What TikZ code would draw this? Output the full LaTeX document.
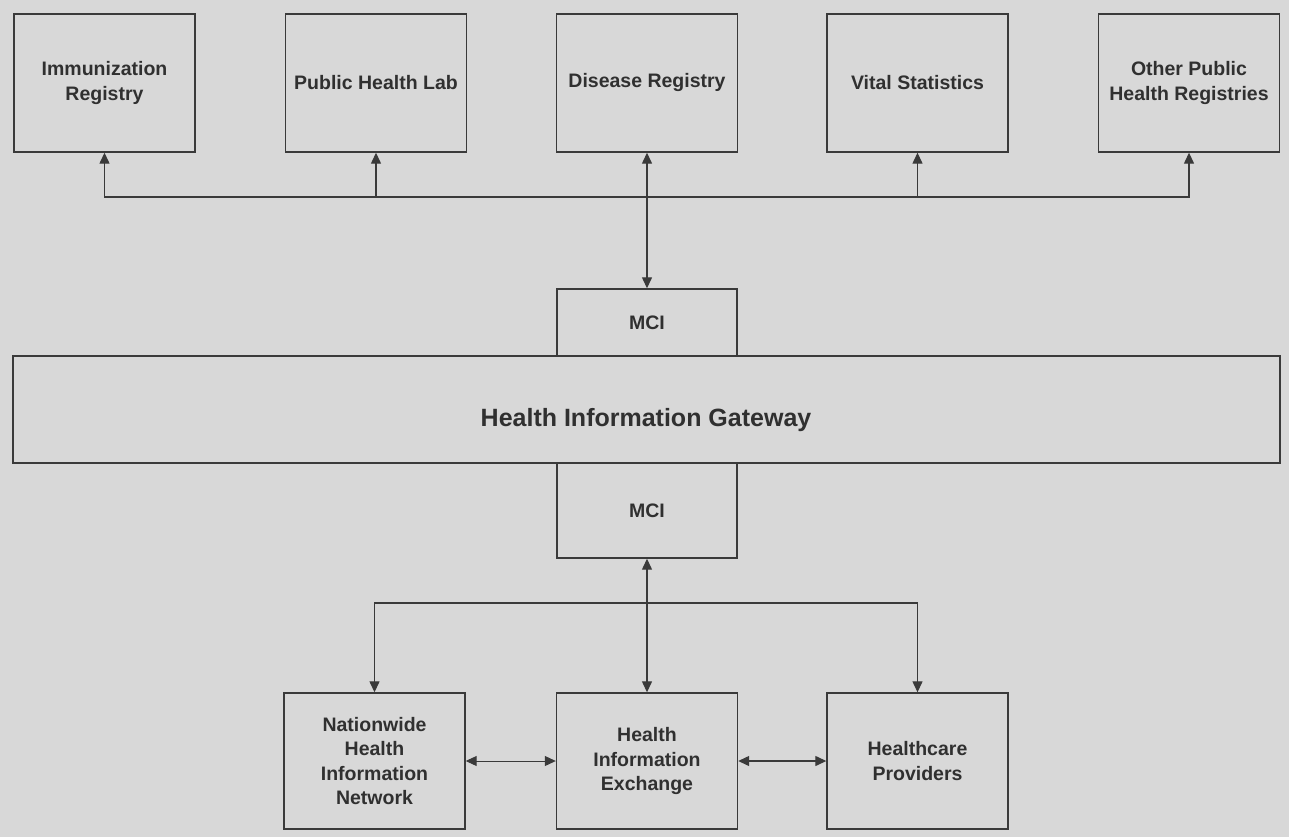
\documentclass[tikz,border=0pt]{standalone}
\usepackage{fontspec}
\setmainfont{Liberation Sans}
\usepackage{tikz}
\usetikzlibrary{arrows.meta}
\definecolor{bgcol}{RGB}{216,216,216}
\definecolor{linecol}{RGB}{58,58,58}
\definecolor{textcol}{RGB}{48,48,48}

\begin{document}
\begin{tikzpicture}[x=1pt,y=-1pt,>={Triangle[length=11pt,width=10pt]}]
\tikzstyle{box}=[draw=linecol,line width=1.4pt,rectangle,align=center,text=textcol,
  font=\fontsize{19.5}{24.5}\selectfont\bfseries,inner sep=2pt];
\tikzstyle{topbox}=[box,minimum width=181pt,minimum height=138pt];
\tikzstyle{botbox}=[box,minimum width=181pt,minimum height=136pt];
\tikzstyle{link}=[draw=linecol,line width=1.3pt];
% background and page size
    \fill[bgcol] (0,0) rectangle (1289,837);
    \useasboundingbox (0,0) rectangle (1289,837);
% registries
%   nodes
    \node[topbox] (imm) at (104.5,83) {Immunization\\Registry};
    \node[topbox] (phl) at (376,83)   {Public Health Lab};
    \node[topbox] (dis) at (647,83)   {Disease Registry};
    \node[topbox] (vit) at (917.5,83) {Vital Statistics};
    \node[topbox] (oth) at (1189,83)  {Other Public\\Health Registries};
% gateway
    \node[box,minimum width=180pt,minimum height=67pt] (mcitop) at (647,322.5) {MCI};
    \node[box,minimum width=1267pt,minimum height=107pt] (gate) at (646.4,409.5) {};
    \node[text=textcol,font=\fontsize{25}{30}\selectfont\bfseries] (gatetext) at (646,420) {Health Information Gateway};
    \node[box,minimum width=180pt,minimum height=95pt] (mcibot) at (647,510.5) {MCI};
% exchange partners
    \node[botbox] (nhin) at (374.5,761) {Nationwide\\Health\\Information\\Network};
    \node[botbox] (hie) at (647,761)    {Health\\Information\\Exchange};
    \node[botbox] (hcp) at (917.5,761)  {Healthcare\\Providers};
%   bus points
    \coordinate (topbus) at (647,197);
    \coordinate (botbus) at (647,603);
%   edges
    \draw[link,->] (topbus) -| (imm.south);
    \draw[link,->] (topbus) -| (phl.south);
    \draw[link,->] (topbus) -| (vit.south);
    \draw[link,->] (topbus) -| (oth.south);
    \draw[link,<->] (dis.south) -- (mcitop.north);
    \draw[link,<->] (mcibot.south) -- (hie.north);
    \draw[link,->] (botbus) -| (nhin.north);
    \draw[link,->] (botbus) -| (hcp.north);
    \draw[link,line width=1pt,<->] (nhin.east) -- (hie.west);
    \draw[link,<->] (hie.east) -- (hcp.west);
\end{tikzpicture}
\end{document}
